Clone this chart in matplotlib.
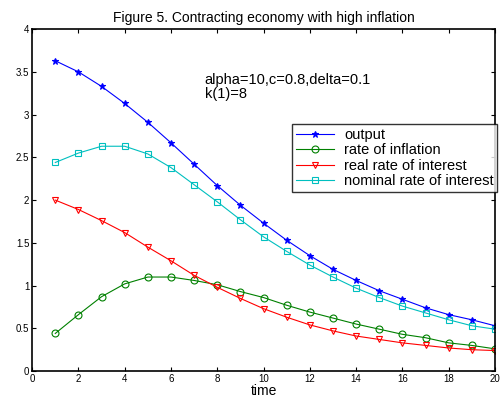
import matplotlib
matplotlib.use("Agg")
import matplotlib.pyplot as plt
import numpy as np

plt.rcParams['font.family'] = ['Liberation Sans', 'DejaVu Sans']

# data
t = np.arange(1, 21)
output = [3.63, 3.50, 3.33, 3.13, 2.91, 2.67, 2.42, 2.17, 1.94, 1.73,
          1.53, 1.35, 1.19, 1.06, 0.94, 0.84, 0.74, 0.66, 0.60, 0.53]
inflation = [0.44, 0.66, 0.87, 1.02, 1.10, 1.10, 1.06, 1.01, 0.93, 0.86,
             0.77, 0.69, 0.62, 0.55, 0.49, 0.43, 0.39, 0.33, 0.30, 0.26]
real_rate = [2.00, 1.89, 1.76, 1.62, 1.45, 1.29, 1.12, 0.98, 0.85, 0.73,
             0.63, 0.54, 0.47, 0.41, 0.37, 0.33, 0.30, 0.27, 0.25, 0.24]
nominal_rate = [2.44, 2.55, 2.63, 2.63, 2.54, 2.38, 2.18, 1.98, 1.77, 1.57,
                1.40, 1.24, 1.10, 0.97, 0.86, 0.76, 0.68, 0.60, 0.53, 0.49]

fig = plt.figure(figsize=(5.02, 3.99), dpi=100)
ax = fig.add_axes([0.064, 0.070, 0.922, 0.857])

ax.plot(t, output, '-*', color='#0000ff', lw=0.8, ms=5, mew=0.8, label='output')
ax.plot(t, inflation, '-o', color='#008000', lw=0.8, ms=5, mew=0.8, mfc='none', label='rate of inflation')
ax.plot(t, real_rate, '-v', color='#ff0000', lw=0.8, ms=5, mew=0.8, mfc='none', label='real rate of interest')
ax.plot(t, nominal_rate, '-s', color='#00bfbf', lw=0.8, ms=5, mew=0.8, mfc='none', label='nominal rate of interest')

ax.set_xlim(0, 20)
ax.set_ylim(0, 4)
ax.set_xticks(range(0, 21, 2))
ax.set_yticks(np.arange(0, 4.01, 0.5))
ax.set_yticklabels(['0', '0.5', '1', '1.5', '2', '2.5', '3', '3.5', '4'])
ax.tick_params(direction='in', length=3, width=0.8, labelsize=7, top=True, right=True, pad=2)
for s in ax.spines.values():
    s.set_linewidth(1.2)

ax.set_xlabel('time', fontsize=10, labelpad=0)
ax.set_title('Figure 5. Contracting economy with high inflation', fontsize=10, pad=5)
ax.text(7.45, 3.49, 'alpha=10,c=0.8,delta=0.1\nk(1)=8', fontsize=10.5, va='top', linespacing=1.05)

leg = ax.legend(loc='upper right', bbox_to_anchor=(1.005, 0.722), fontsize=10.5, frameon=True,
                fancybox=False, edgecolor='black', borderpad=0.25, labelspacing=0.1,
                handlelength=2.6, handletextpad=0.7, borderaxespad=0)
leg.get_frame().set_linewidth(1.0)

fig.savefig('out.png', dpi=100)
